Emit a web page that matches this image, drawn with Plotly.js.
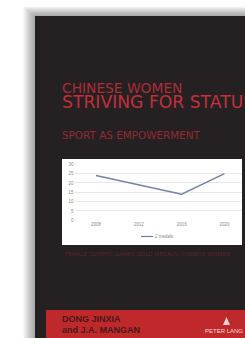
<!DOCTYPE html>
<html><head><meta charset="utf-8">
<script src="https://cdn.plot.ly/plotly-3.0.1.min.js"></script>
<style>html,body{margin:0;padding:0;background:#fff;overflow:hidden}#c{width:245px;height:338px}</style>
</head><body><div id="c"></div>
<script>
const years = ['2008', '2012', '2016', '2020'];
const medals = [24, 19, 14, 25];
const seriesName = '2 medals';
const yTicks = [0, 5, 10, 15, 20, 25, 30];
const kicker = 'CHINESE WOMEN';
const mainTitle = 'STRIVING FOR STATUS';
const subTitle = 'SPORT AS EMPOWERMENT';
const caption = 'FEMALE OLYMPIC GAMES GOLD MEDALS: CHINESE WOMEN';
const author1 = 'DONG JINXIA';
const author2 = 'and J.A. MANGAN';
const publisher = 'PETER LANG';

const W = 245, H = 338;
const px = v => v / W, py = v => 1 - v / H;

const shapes = [];
// soft shadow around cover
for (let k = 12; k >= 1; k--) {
  shapes.push({type:'rect', xref:'paper', yref:'paper', layer:'below',
    x0:px(35-k), x1:px(260), y0:py(16-k*0.8), y1:py(350),
    line:{width:0}, fillcolor:'rgba(0,0,0,0.03)'});
}
// cover
shapes.push({type:'rect', xref:'paper', yref:'paper', layer:'below',
  x0:px(35), x1:px(260), y0:py(16), y1:py(350), line:{width:0}, fillcolor:'#252122'});
// chart panel
shapes.push({type:'rect', xref:'paper', yref:'paper', layer:'below',
  x0:px(62), x1:px(242), y0:py(159), y1:py(245), line:{width:0}, fillcolor:'#ffffff'});
// bottom red band
shapes.push({type:'rect', xref:'paper', yref:'paper', layer:'below',
  x0:px(46), x1:px(260), y0:py(310), y1:py(350), line:{width:0}, fillcolor:'#c0292c'});
// legend line sample
shapes.push({type:'line', xref:'paper', yref:'paper',
  x0:px(141), x1:px(153), y0:py(236.5), y1:py(236.5), line:{color:'#6d7fa0', width:1.2}});
// publisher logo
shapes.push({type:'path', xref:'paper', yref:'paper',
  path:`M ${px(226.5)} ${py(317)} L ${px(223)} ${py(325)} L ${px(230)} ${py(325)} Z`,
  line:{width:0}, fillcolor:'#f1d2d2'});

const ann = (text, x, y, size, color, family) => ({
  text, xref:'paper', yref:'paper', x:px(x), y:py(y), xanchor:'left', yanchor:'middle',
  showarrow:false, borderpad:0, font:{family: family || 'DejaVu Sans, sans-serif', size, color}});

const annotations = [
  ann(kicker, 60.5, 88, 13.8, '#ad2c37'),
  ann(mainTitle, 60.5, 102, 17.2, '#c2303b'),
  ann(subTitle, 60.5, 135, 10.4, '#932a34'),
  ann(caption, 64, 254, 5.6, '#5d2328'),
  ann('<b>' + author1 + '</b>', 61, 319, 9, '#45191a', 'Liberation Sans, sans-serif'),
  ann('<b>' + author2 + '</b>', 61, 330, 9, '#45191a', 'Liberation Sans, sans-serif'),
  ann(publisher, 204, 330.5, 6, '#f3d3d3', 'Liberation Sans Narrow, Liberation Sans, sans-serif'),
  ann(seriesName, 154, 236.5, 4.5, '#8a8a8a', 'Liberation Sans, sans-serif')
];

const trace = {
  type:'scatter', mode:'lines', x: years, y: medals, name: seriesName,
  line:{color:'#7283a3', width:1.4}, showlegend:false, hoverinfo:'skip'
};

const layout = {
  width: W, height: H, margin:{l:0,r:0,t:0,b:0}, autosize:false,
  paper_bgcolor:'#ffffff', plot_bgcolor:'rgba(0,0,0,0)',
  showlegend:false,
  xaxis:{type:'category', domain:[px(74.6), px(242)], range:[-0.5, 3.41],
    showgrid:false, zeroline:false, showline:false, ticks:'',
    tickfont:{family:'Liberation Sans, sans-serif', size:4.5, color:'#8a8a8a'}, fixedrange:true},
  yaxis:{domain:[py(220.3), py(164.3)], range:[0, 30], tickvals: yTicks,
    showgrid:true, gridcolor:'#e3e3e3', gridwidth:0.8, zeroline:false, showline:false, ticks:'',
    tickfont:{family:'Liberation Sans, sans-serif', size:4.5, color:'#8a8a8a'}, fixedrange:true},
  shapes, annotations
};

Plotly.newPlot('c', [trace], layout, {staticPlot:true, displayModeBar:false});
</script></body></html>
